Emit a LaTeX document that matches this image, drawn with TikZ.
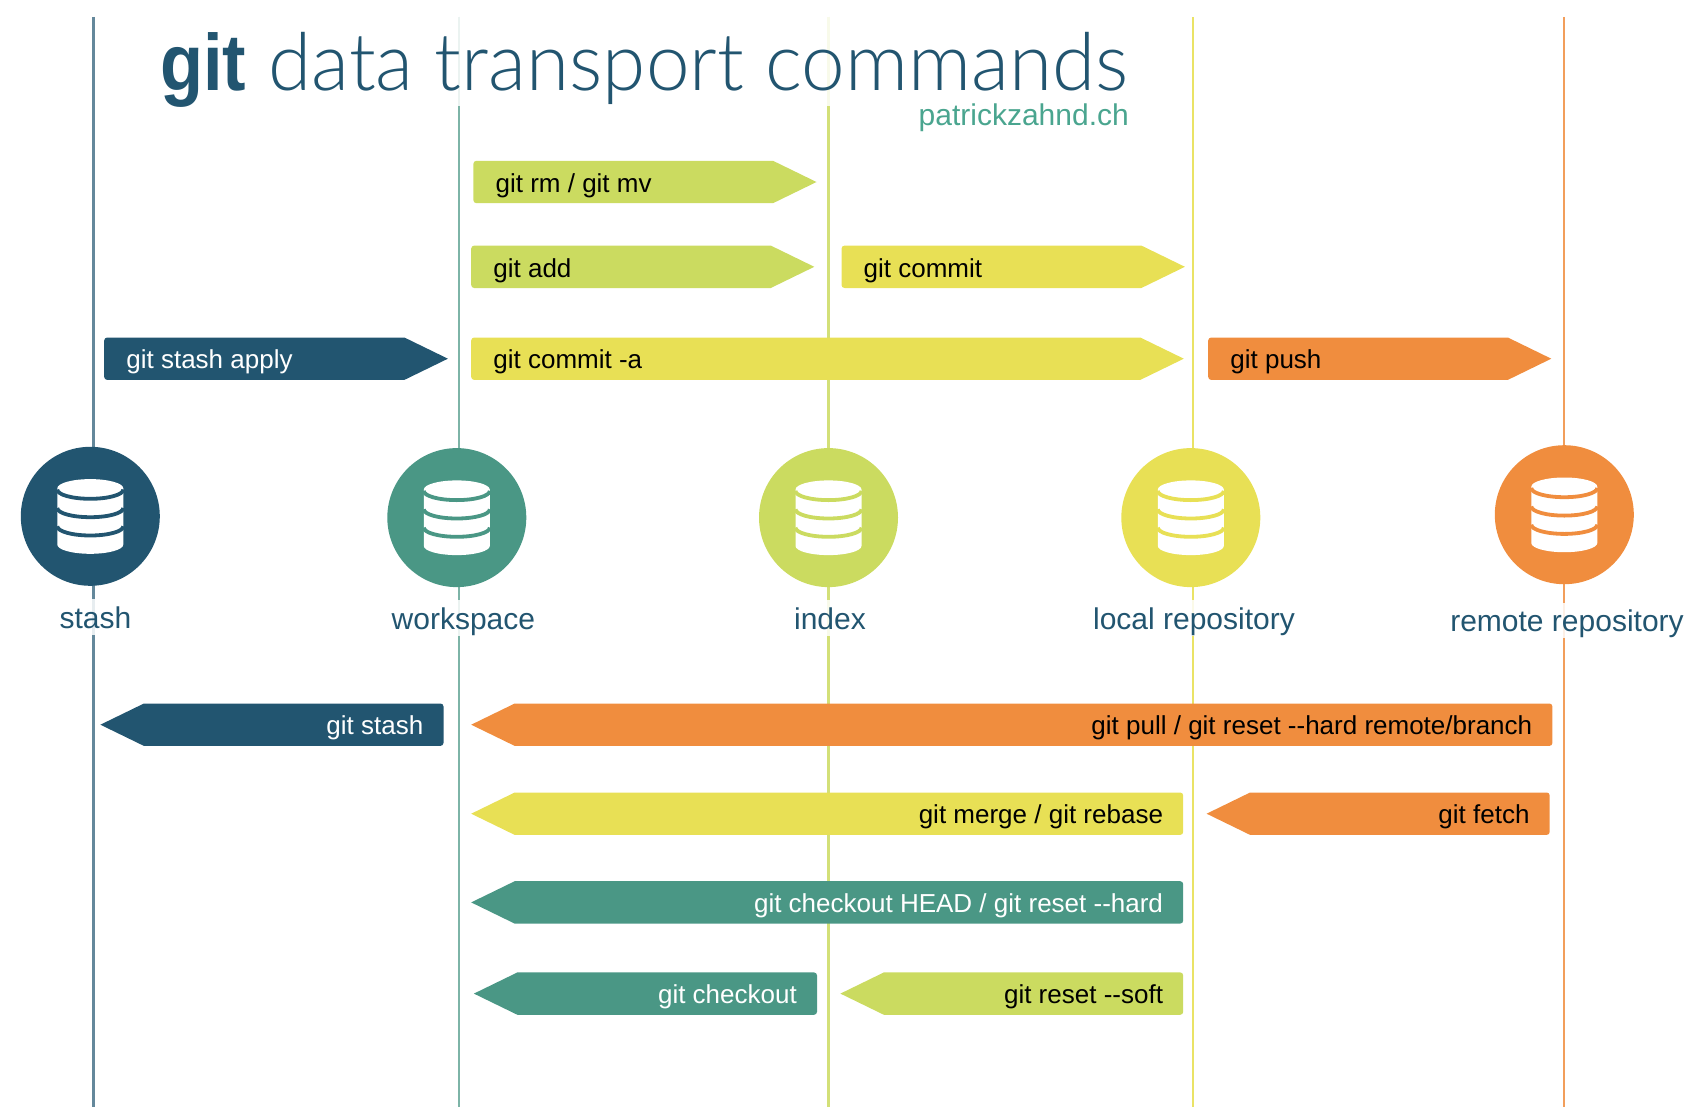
\documentclass[tikz,border=0pt]{standalone}
\usepackage{fontspec}
\setmainfont{Liberation Sans}
\newfontfamily\titlelight{Lato Light}
\usepackage{tikz}
\definecolor{stashcol}{HTML}{225570}
\definecolor{workcol}{HTML}{4A9785}
\definecolor{indexcol}{HTML}{CBDB60}
\definecolor{localcol}{HTML}{E8E055}
\definecolor{remotecol}{HTML}{F08D3E}
\definecolor{sitecol}{HTML}{4AA58F}
\tikzset{
    railline/.style={line width=2.2pt},
    storecircle/.style={circle, minimum size=139pt, inner sep=0pt},
    storelabel/.style={anchor=base, font=\fontsize{30}{34}\selectfont, text=stashcol, fill=white, fill opacity=.85, text opacity=1, inner ysep=0pt, inner xsep=2pt, text height=29pt, text depth=6.5pt},
    cmdlabel/.style={font=\fontsize{26}{30}\selectfont, inner sep=0pt},
    dbicon/.pic={
        \fill[white] (-33,-28) arc[start angle=180, end angle=360, x radius=33, y radius=9.2] -- (33,28.3) arc[start angle=0, end angle=180, x radius=33, y radius=9.2] -- cycle;
        \foreach \yb in {-26.7,-8.3,10} {
            \draw[pic actions, line width=3.8pt] (-33,\yb) arc[start angle=180, end angle=0, x radius=33, y radius=9.2];
        }
    }
}
\begin{document}
\begin{tikzpicture}[x=1pt, y=-1pt]
    \useasboundingbox (0,0) rectangle (1702,1108);

    \foreach \sname/\xline/\scol in {stash/93.4/stashcol!70!white, workspace/458.7/workcol!72!white, index/828.4/indexcol!85!white, local/1193/localcol!90!white, remote/1564.3/remotecol!85!white} {
        \coordinate (\sname top) at (\xline,17);
        \coordinate (\sname bottom) at (\xline,1107);
        \draw[railline, \scol] (\sname top) -- (\sname bottom);
    }

    \node[anchor=base west, inner sep=0pt, fill=white, fill opacity=.85, text opacity=1, text=stashcol, text height=73pt, text depth=16pt] (title) at (160,90) {\fontsize{80}{90}\selectfont\scalebox{.88}[1]{\bfseries git} \titlelight\scalebox{.978}[1]{data transport commands}};
    \node[anchor=base east, inner sep=0pt, text=sitecol, font=\fontsize{30}{34}\selectfont] (site) at (1129,125.5) {patrickzahnd.ch};

    \foreach \cname/\xa/\xb/\yt/\ccol/\tcol/\ctxt in {
        rmmv/473.4/816.5/160.8/indexcol/black/{git rm / git mv},
        add/471.2/814.3/245.6/indexcol/black/{git add},
        commit/841.5/1184.9/245.6/localcol/black/{git commit},
        stashapply/104.2/447.9/337.5/stashcol/white/{git stash apply},
        commita/471.2/1183.8/337.5/localcol/black/{git commit -a},
        push/1208.2/1551.3/337.5/remotecol/black/{git push}} {
        \fill[\ccol] (\xb-43.5,\yt) [rounded corners=3pt] -- (\xa,\yt) -- (\xa,\yt+42.4) [sharp corners] -- (\xb-43.5,\yt+42.4) -- (\xb,\yt+21.2) -- cycle;
        \node[cmdlabel, anchor=base west, text=\tcol] (\cname) at (\xa+22,\yt+31.4) {\ctxt};
    }

    \foreach \cname/\xa/\xb/\yt/\ccol/\tcol/\ctxt in {
        stashsave/443.5/100.4/703.5/stashcol/white/{git stash},
        pull/1552.4/471.2/703.5/remotecol/black/{git pull / git reset -{}-hard remote/branch},
        merge/1183.2/471.2/792.5/localcol/black/{git merge / git rebase},
        fetch/1549.7/1206.6/792.5/remotecol/black/{git fetch},
        head/1183.2/471.2/881.2/workcol/white/{git checkout HEAD / git reset -{}-hard},
        checkout/817/473.9/972.4/workcol/white/{git checkout},
        soft/1183.2/840.4/972.4/indexcol/black/{git reset -{}-soft}} {
        \fill[\ccol] (\xb+43.5,\yt) [rounded corners=3pt] -- (\xa,\yt) -- (\xa,\yt+42.4) [sharp corners] -- (\xb+43.5,\yt+42.4) -- (\xb,\yt+21.2) -- cycle;
        \node[cmdlabel, anchor=base east, text=\tcol] (\cname) at (\xa-20,\yt+31) {\ctxt};
    }

    \foreach \sname/\xc/\yc/\scol/\stxt/\xl/\yl in {
        stash/90.3/516.3/stashcol/stash/95.5/628,
        workspace/456.8/517.6/workcol/workspace/463.4/629,
        index/828.5/517.6/indexcol/index/830/629,
        local/1190.8/517.6/localcol/local repository/1194/629,
        remote/1564.3/514.7/remotecol/remote repository/1567/631.7} {
        \node[storecircle, fill=\scol] (\sname) at (\xc,\yc) {};
        \pic[\scol, draw=\scol] at (\sname) {dbicon};
        \node[storelabel] (\sname label) at (\xl,\yl) {\stxt};
    }
\end{tikzpicture}
\end{document}
